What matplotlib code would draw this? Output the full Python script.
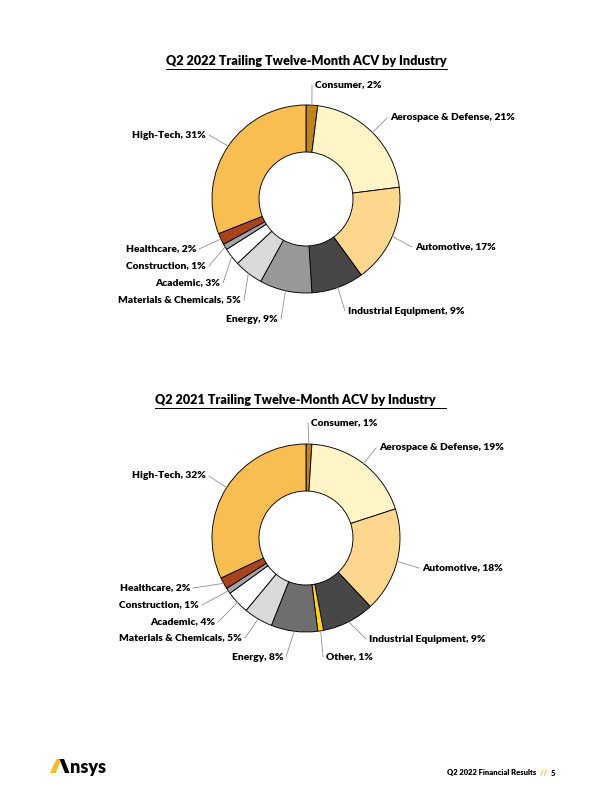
import numpy as np
import matplotlib
matplotlib.use("Agg")
import matplotlib.pyplot as plt
from matplotlib.patches import Polygon

plt.rcParams['font.family'] = ['Lato', 'DejaVu Sans']

# data
industries_2022 = ['Consumer', 'Aerospace & Defense', 'Automotive', 'Industrial Equipment',
                   'Energy', 'Materials & Chemicals', 'Academic', 'Construction',
                   'Healthcare', 'High-Tech']
acv_2022 = [2, 21, 17, 9, 9, 5, 3, 1, 2, 31]

industries_2021 = ['Consumer', 'Aerospace & Defense', 'Automotive', 'Industrial Equipment',
                   'Other', 'Energy', 'Materials & Chemicals', 'Academic', 'Construction',
                   'Healthcare', 'High-Tech']
acv_2021 = [1, 19, 18, 9, 1, 8, 5, 4, 1, 2, 32]

colors_2022 = ['#BF8417', '#FFF5C6', '#FDD78E', '#474747', '#989898', '#D9D9D9',
               '#FFFFFF', '#A5A5A5', '#A9431E', '#F9BE52']
colors_2021 = ['#BF8417', '#FFF5C6', '#FDD78E', '#474747', '#FFD700', '#6E6E6E',
               '#D9D9D9', '#FFFFFF', '#A5A5A5', '#A9431E', '#F9BE52']

# label layout (image pixels: near edge x, centre y, side)
layout_2022 = [(315, 85, 'left'), (390, 118, 'left'), (415, 247, 'left'), (348, 311, 'left'),
               (278, 319, 'right'), (241, 300, 'right'), (220, 283, 'right'),
               (206, 266, 'right'), (196, 249, 'right'), (206, 135, 'right')]
layout_2021 = [(311, 423, 'left'), (379, 448, 'left'), (422, 568, 'left'), (369, 639, 'left'),
               (326, 657, 'left'), (283, 657, 'right'), (242, 638, 'right'),
               (215, 622, 'right'), (199, 605, 'right'), (190, 588, 'right'),
               (206, 476, 'right')]

W, H = 612, 792
fig = plt.figure(figsize=(W / 72, H / 72), dpi=72)
ax = fig.add_axes([0, 0, 1, 1])


def fix_limits():
    ax.set_xlim(0, W)
    ax.set_ylim(0, H)
    ax.set_aspect('auto')
    ax.axis('off')


def text_width(t):
    fig.canvas.draw()
    bb = t.get_window_extent()
    return bb.x1 - bb.x0


def donut(values, names, colors, layout, cx, cy, r, title, title_x, title_y, underline_end):
    cy_up = H - cy
    ax.pie(values, colors=colors, startangle=90, counterclock=False,
           center=(cx, cy_up), radius=r, frame=True,
           wedgeprops=dict(width=r * 0.5, edgecolor='black', linewidth=0.9))
    fix_limits()
    total = sum(values)
    start = 0
    for v, name, (tx, ty, side) in zip(values, names, layout):
        mid = np.deg2rad((start + v / 2) / total * 360)
        start += v
        ex = cx + r * np.sin(mid)
        ey = cy_up + r * np.cos(mid)
        ty_up = H - ty
        off = -3 if side == 'left' else 3
        ax.plot([ex, tx + off], [ey, ty_up], color='#8C8C8C', lw=0.8)
        ax.text(tx, ty_up, f'{name}, {v}%', ha=side, va='center',
                fontsize=10.2, fontweight='heavy', color='black')
    t = ax.text(title_x, H - title_y, title, ha='left', va='center',
                fontsize=12.6, fontweight='heavy', color='black')
    w = text_width(t)
    end = max(title_x + w, underline_end) if underline_end else title_x + w
    uy = H - title_y - 7.5
    ax.plot([title_x, end], [uy, uy], color='black', lw=1.0)


donut(acv_2022, industries_2022, colors_2022, layout_2022, 306, 199, 94,
      'Q2 2022 Trailing Twelve-Month ACV by Industry', 166, 61, None)
donut(acv_2021, industries_2021, colors_2021, layout_2021, 306, 538, 94,
      'Q2 2021 Trailing Twelve-Month ACV by Industry', 155, 400, 446)

# footer logo: two strokes of the "A" plus the rest of the word
ax.add_patch(Polygon([(50, H - 773), (55.5, H - 773), (61.5, H - 759), (56.5, H - 759)],
                     closed=True, facecolor='#FFB81C', edgecolor='none'))
ax.add_patch(Polygon([(59.5, H - 759), (64, H - 759), (69.5, H - 773), (65, H - 773)],
                     closed=True, facecolor='black', edgecolor='none'))
ax.text(70, H - 767, 'nsys', ha='left', va='center', fontsize=18, fontweight='heavy', color='black')

x = 447
for piece, col in [('Q2 2022 Financial Results ', 'black'), ('// ', '#FFB81C'), ('5', 'black')]:
    t = ax.text(x, H - 773, piece, ha='left', va='center',
                fontsize=7.6, fontweight='heavy', color=col)
    x += text_width(t) + 2

fix_limits()
fig.savefig('out.png', dpi=72, facecolor='white')
